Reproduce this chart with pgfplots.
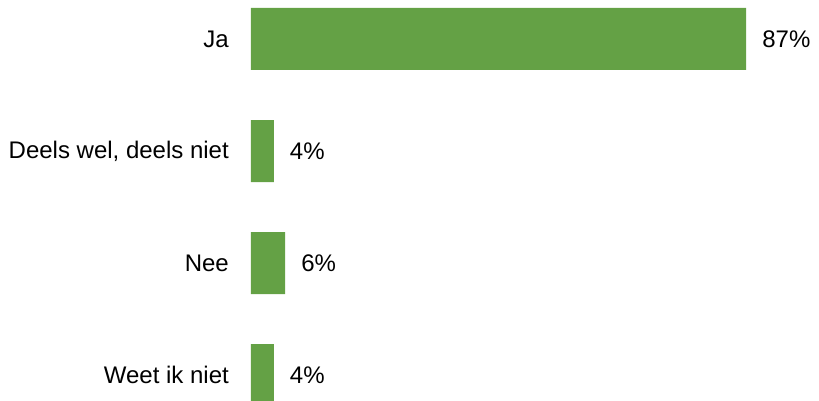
\documentclass[border=0pt]{standalone}
\usepackage{pgfplots}
\pgfplotsset{compat=1.18}
\usepackage{fontspec}
\setmainfont{Liberation Sans}
\definecolor{bargreen}{RGB}{100,161,69}
\begin{document}
\begin{tikzpicture}
\begin{axis}[
 at={(0,0)}, anchor=south west,
 scale only axis, width=568pt, height=400pt,
 xbar, bar width=62pt, bar shift=0pt,
 xmin=0, xmax=99.8, ymin=-0.348, ymax=3.223, y dir=reverse,
 axis line style={draw=none}, tick style={draw=none}, major tick length=0pt,
 xtick=\empty, ytick={0,1,2,3},
 yticklabels={Ja,{Deels wel, deels niet},Nee,Weet ik niet},
 yticklabel style={font=\fontsize{24}{28}\selectfont, inner sep=0pt, xshift=-22pt},
 nodes near coords={\pgfmathprintnumber[assume math mode=true]{\pgfplotspointmeta}\%},
 point meta=x,
 every node near coord/.append style={font=\fontsize{24}{28}\selectfont, inner sep=0pt, xshift=16pt, black},
]
\addplot[fill=bargreen, draw=none] coordinates {(87,0) (4,1) (6,2) (4,3)};
\end{axis}
\pgfresetboundingbox
\path (-251pt,0) rectangle (568pt,400pt);
\end{tikzpicture}
\end{document}
